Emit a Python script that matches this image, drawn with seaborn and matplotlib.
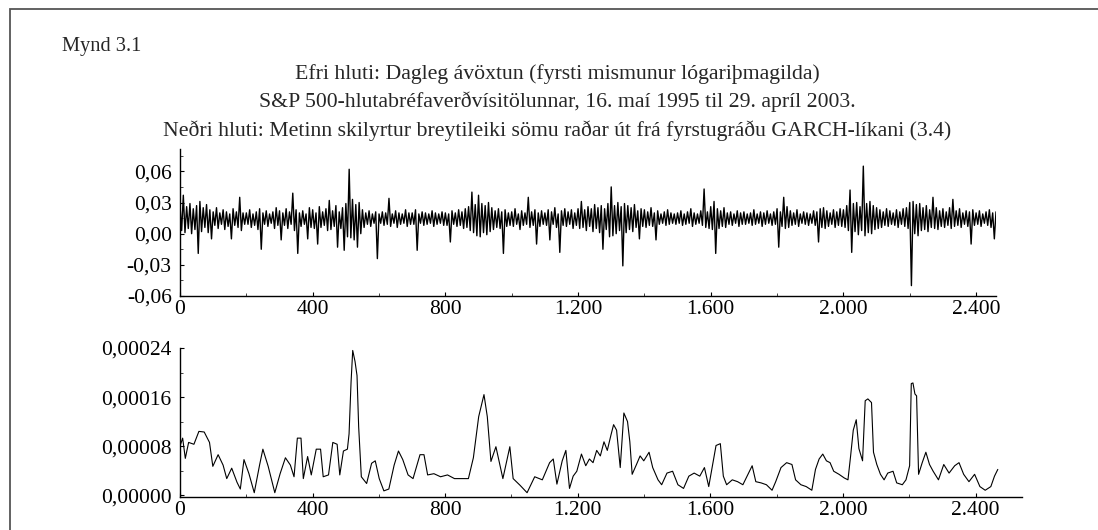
import numpy as np
import matplotlib
matplotlib.use("Agg")
import matplotlib.pyplot as plt
from matplotlib.patches import Rectangle
from matplotlib.ticker import FixedLocator, FuncFormatter, MultipleLocator
import seaborn as sns

# Texti
fig_label = "Mynd 3.1"
title_lines = [
    "Efri hluti: Dagleg ávöxtun (fyrsti mismunur lógariþmagilda)",
    "S&P 500-hlutabréfaverðvísitölunnar, 16. maí 1995 til 29. apríl 2003.",
    "Neðri hluti: Metinn skilyrtur breytileiki sömu raðar út frá fyrstugráðu GARCH-líkani (3.4)",
]

# Efri hluti: dagleg ávöxtun, hæsta og lægsta gildi á hverju 10 daga bili (í þúsundustu hlutum)
ret_step = 10
ret_hi = [
    27, 37, 26, 29, 24, 27, 31, 25, 28, 23,
    21, 25, 20, 23, 21, 19, 24, 21, 35, 20,
    20, 23, 19, 21, 24, 20, 22, 19, 21, 25,
    22, 20, 24, 21, 39, 23, 20, 22, 19, 25,
    23, 20, 26, 21, 24, 32, 22, 27, 21, 25,
    29, 62, 33, 28, 30, 23, 20, 22, 19, 21,
    19, 21, 20, 34, 19, 22, 20, 19, 23, 20,
    20, 23, 19, 21, 20, 19, 22, 20, 19, 21,
    20, 19, 22, 20, 23, 21, 24, 26, 40, 28,
    37, 29, 27, 30, 25, 22, 24, 21, 23, 20,
    21, 24, 19, 22, 20, 35, 21, 23, 20, 22,
    20, 23, 21, 25, 19, 22, 24, 21, 23, 20,
    24, 31, 23, 26, 24, 28, 25, 27, 24, 29,
    45, 27, 30, 26, 29, 27, 25, 28, 22, 24,
    23, 21, 25, 20, 22, 19, 21, 23, 20, 19,
    20, 22, 19, 21, 24, 20, 19, 22, 43, 21,
    26, 31, 24, 22, 25, 20, 21, 19, 22, 20,
    21, 19, 20, 23, 19, 21, 20, 22, 19, 21,
    24, 21, 35, 26, 22, 20, 23, 19, 21, 20,
    19, 22, 21, 24, 25, 22, 20, 23, 21, 24,
    23, 27, 42, 29, 30, 26, 65, 29, 31, 27,
    25, 23, 21, 24, 22, 20, 23, 21, 24, 25,
    30, 31, 28, 29, 25, 27, 23, 35, 25, 22,
    24, 21, 25, 33, 22, 24, 20, 22, 21, 23,
    20, 22, 19, 21, 23, 20, 21,
]
ret_lo = [
    3, 1, 5, 0, 4, -19, 2, 6, 1, -5,
    8, 5, 9, 4, 7, -5, 8, 6, 3, 9,
    9, 6, 8, 4, -15, 9, 7, 10, 5, 8,
    -6, 8, 5, 9, 3, -19, 7, 9, -5, 6,
    5, -10, 6, 8, 3, 4, 7, -13, 5, -16,
    -3, -4, -6, -13, 0, 6, 9, 7, 10, -24,
    10, 8, 9, 7, 10, 6, 9, 10, 7, 9,
    9, -16, 10, 8, 9, 10, 7, 9, 10, 8,
    8, -8, 9, 7, 8, 5, 6, 3, 1, -2,
    -3, 1, -1, 2, 4, 6, 5, -19, 7, 8,
    7, 9, 4, 8, 9, 6, 8, -10, 7, 9,
    8, -6, 9, 6, -18, 8, 7, 9, 5, 8,
    5, 6, 3, 7, 2, 5, 1, -15, 4, -3,
    -2, 0, 3, -31, 1, 4, 2, 6, -5, 7,
    6, 8, 7, -6, 9, 10, 8, 9, 10, 9,
    10, 8, 9, 10, 7, 9, 10, 8, 6, 5,
    4, -19, 5, 7, 6, 9, 8, 10, 7, 9,
    9, 10, 8, 9, 10, 7, 9, 10, 8, 9,
    -13, 7, 5, 6, 8, 9, 7, 10, 9, 8,
    10, 8, -8, 6, 5, 7, 9, 6, 8, 7,
    6, 3, -18, 2, -1, 3, -2, 1, 0, 4,
    5, 6, 8, 7, 9, 8, 6, 9, 7, 5,
    -50, 0, -2, 3, 4, 2, 6, 5, 4, 7,
    6, 8, 5, 7, 8, 6, 9, 7, -10, 8,
    9, 7, 10, 8, 6, -5, 9,
]

# Neðri hluti: skilyrtur breytileiki (í einingum 1e-5)
var_day = [
    0, 8, 16, 26, 42, 57, 73, 89, 99, 115, 130, 141, 156, 172, 182, 193, 208, 224,
    240, 250, 266, 286, 302, 318, 333, 344, 354, 365, 372, 385, 396, 411, 424, 432,
    448, 461, 474, 482, 493, 505, 510, 516, 521, 528, 534, 539, 547, 563, 578, 589,
    601, 615, 630, 646, 659, 672, 688, 703, 724, 736, 747, 766, 786, 807, 828, 849,
    870, 885, 901, 917, 927, 938, 953, 974, 995, 1005, 1026, 1047, 1070, 1093, 1115,
    1126, 1137, 1153, 1164, 1175, 1186, 1197, 1211, 1224, 1235, 1246, 1257, 1268,
    1279, 1289, 1300, 1308, 1317, 1328, 1339, 1350, 1357, 1364, 1377, 1388, 1399,
    1415, 1426, 1442, 1453, 1469, 1486, 1502, 1519, 1535, 1551, 1568, 1582, 1595,
    1617, 1630, 1639, 1649, 1666, 1682, 1698, 1715, 1726, 1737, 1753, 1769, 1786,
    1797, 1813, 1830, 1846, 1857, 1873, 1889, 1906, 1917, 1928, 1939, 1950, 1961,
    1972, 1988, 2004, 2015, 2023, 2031, 2040, 2048, 2059, 2067, 2075, 2086, 2092,
    2102, 2113, 2124, 2135, 2151, 2162, 2179, 2190, 2201, 2206, 2211, 2217, 2222,
    2228, 2239, 2250, 2261, 2272, 2288, 2304, 2320, 2337, 2350, 2364, 2380, 2397,
    2413, 2429, 2446, 2457, 2467,
]
var_e5 = [
    8.0, 9.3, 6.0, 8.6, 8.3, 10.4, 10.3, 8.6, 4.7, 6.6, 4.9, 2.7, 4.4, 2.1, 1.0,
    5.8, 3.5, 0.4, 4.9, 7.5, 4.7, 0.4, 3.5, 6.1, 4.9, 3.0, 9.3, 9.3, 2.7, 6.3, 3.3,
    7.5, 7.5, 3.0, 3.3, 8.6, 8.3, 3.3, 7.2, 7.5, 10.0, 18.4, 23.6, 21.8, 19.5,
    11.1, 3.0, 1.9, 5.2, 5.6, 2.7, 0.7, 1.0, 4.9, 7.2, 5.8, 3.3, 2.7, 6.6, 6.6,
    3.3, 3.5, 3.0, 3.3, 2.7, 2.7, 2.7, 6.1, 12.8, 16.4, 12.8, 5.5, 7.9, 2.7, 7.9,
    2.7, 1.6, 0.4, 3.0, 2.5, 5.3, 5.9, 1.8, 5.6, 7.3, 1.1, 3.1, 3.9, 6.7, 4.8,
    5.9, 5.3, 7.3, 6.4, 8.7, 7.3, 9.8, 11.5, 10.6, 4.5, 13.4, 12.0, 8.7, 3.4,
    5.0, 6.4, 5.6, 7.0, 4.5, 2.5, 1.7, 3.6, 3.9, 1.7, 1.1, 3.1, 3.6, 3.1, 4.5,
    1.4, 8.1, 8.4, 3.1, 1.7, 2.5, 2.2, 1.7, 3.6, 4.8, 2.2, 2.0, 1.7, 0.8, 2.2,
    4.5, 5.3, 5.0, 2.5, 1.7, 1.4, 0.8, 4.2, 5.9, 6.7, 5.6, 5.3, 3.9, 3.4, 2.8,
    2.5, 6.4, 10.6, 12.3, 7.6, 5.6, 15.4, 15.7, 15.1, 7.0, 5.0, 3.4, 2.5, 3.6,
    3.9, 2.0, 1.7, 2.5, 4.8, 18.2, 18.3, 16.5, 16.2, 3.4, 5.3, 7.0, 5.0, 3.9,
    2.5, 5.0, 3.6, 4.8, 5.3, 3.4, 2.2, 3.4, 1.4, 0.8, 1.4, 3.1, 4.2,
]

x_ticks = [0, 400, 800, 1200, 1600, 2000, 2400]
ret_ticks = [-0.06, -0.03, 0.00, 0.03, 0.06]
var_ticks = [0.0, 0.00008, 0.00016, 0.00024]

# hæsta og lægsta gildi hvers bils fléttuð saman í eina línu
hi = np.array(ret_hi) / 1000.0
lo = np.array(ret_lo) / 1000.0
bin_start = np.arange(len(hi)) * ret_step
ret_day = np.column_stack([bin_start, bin_start + ret_step / 2]).ravel()
ret = np.column_stack([hi, lo]).ravel()
var = np.array(var_e5) * 1e-5

sns.set_theme(style="ticks")
plt.rcParams["font.family"] = ["Liberation Serif", "DejaVu Serif"]

W, H = 1098, 530
fig = plt.figure(figsize=(W / 100, H / 100), dpi=100)
fig.patch.set_facecolor("white")

# rammi utan um myndina
fig.patches.append(Rectangle((10 / W, -0.1), 1.2, (530 - 9) / H + 0.1,
                             transform=fig.transFigure, fill=False,
                             edgecolor="#555555", linewidth=1.3))

fig.text(62 / W, 1 - 46 / H, fig_label, fontsize=14.7, va="center", ha="left")
for txt, yy in zip(title_lines, [74, 102, 131]):
    fig.text(557 / W, 1 - yy / H, txt, fontsize=15.7, va="center", ha="center")


def style_axis(ax):
    sns.despine(ax=ax)
    for s in ["left", "bottom"]:
        ax.spines[s].set_color("black")
        ax.spines[s].set_linewidth(1.0)
    ax.set_facecolor("white")
    ax.tick_params(axis="both", which="major", direction="in", length=3,
                   width=0.8, labelsize=15.5, color="black", labelcolor="black")
    ax.tick_params(axis="both", which="minor", direction="in", length=2, width=0.6)
    ax.tick_params(axis="x", pad=3)
    ax.tick_params(axis="y", pad=6)
    ax.xaxis.set_major_locator(FixedLocator(x_ticks))
    ax.xaxis.set_minor_locator(MultipleLocator(200))
    ax.xaxis.set_major_formatter(FuncFormatter(lambda v, p: f"{int(round(v)):,}".replace(",", ".")))
    ax.set_xlabel("")
    ax.set_ylabel("")
    ax.grid(False)


ax1 = fig.add_axes([180 / W, 1 - 296 / H, 816 / W, 147 / H])
sns.lineplot(x=ret_day, y=ret, ax=ax1, color="black", linewidth=1.0, estimator=None)
ax1.set_xlim(0, 2460)
ax1.set_ylim(-0.06, 0.0815)
style_axis(ax1)
ax1.yaxis.set_major_locator(FixedLocator(ret_ticks))
ax1.yaxis.set_minor_locator(MultipleLocator(0.015))
ax1.yaxis.set_major_formatter(FuncFormatter(lambda v, p: f"{v:.2f}".replace(".", ",")))

ax2 = fig.add_axes([180 / W, 1 - 497 / H, 842 / W, 149 / H])
sns.lineplot(x=var_day, y=var, ax=ax2, color="black", linewidth=0.8, estimator=None)
ax2.set_xlim(0, 2540)
ax2.set_ylim(-0.000003, 0.00024)
style_axis(ax2)
ax2.yaxis.set_major_locator(FixedLocator(var_ticks))
ax2.yaxis.set_minor_locator(MultipleLocator(0.00004))
ax2.yaxis.set_major_formatter(FuncFormatter(lambda v, p: f"{v:.5f}".replace(".", ",")))

fig.savefig("out.png", dpi=100, facecolor="white")
